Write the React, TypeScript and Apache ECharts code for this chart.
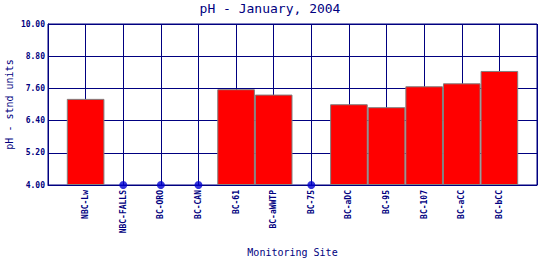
import React, { useEffect, useRef } from "react";
import * as echarts from "echarts";

const sites = [
  "NBC-Lw", "NBC-FALLS", "BC-ORO", "BC-CAN", "BC-61", "BC-aWWTP",
  "BC-75", "BC-aDC", "BC-95", "BC-107", "BC-aCC", "BC-bCC",
];
const phValues: (number | null)[] = [
  7.21, null, null, null, 7.57, 7.37, null, 7.01, 6.9, 7.68, 7.79, 8.25,
];
const yMin = 4.0;
const yMax = 10.0;
const yStep = 1.2;

const NAVY = "#000080";
const FONT = "'DejaVu Sans Mono', monospace";

export default function App() {
  const ref = useRef<HTMLDivElement>(null);
  useEffect(() => {
    if (!ref.current) return;
    const chart = echarts.init(ref.current, undefined, { renderer: "svg" });
    const cats = ["", ...sites, ""];
    const barData = ["-", ...phValues.map((v) => (v == null ? "-" : v - yMin)), "-"];
    const dotData = ["-", ...phValues.map((v) => (v == null ? 0 : "-")), "-"];
    chart.setOption({
      animation: false,
      backgroundColor: "#ffffff",
      title: {
        text: "pH - January, 2004",
        left: "center",
        top: 2,
        padding: 0,
        textStyle: { fontFamily: FONT, fontSize: 13, fontWeight: "normal", color: NAVY },
      },
      grid: {
        left: 48,
        right: 3,
        top: 24,
        bottom: 75,
        containLabel: false,
        outerBoundsMode: "none",
        show: true,
        borderColor: NAVY,
        borderWidth: 1,
        backgroundColor: "#ffffff",
      },
      xAxis: {
        type: "category",
        data: cats,
        boundaryGap: false,
        name: "Monitoring Site",
        nameLocation: "middle",
        nameGap: 62,
        nameMoveOverlap: false,
        nameTextStyle: { fontFamily: FONT, fontSize: 10, color: NAVY },
        axisLine: { show: true, lineStyle: { color: NAVY, width: 1 } },
        axisTick: { show: false },
        splitLine: { show: true, lineStyle: { color: NAVY, width: 1 } },
        axisLabel: {
          interval: 0,
          rotate: 90,
          margin: 5,
          fontFamily: FONT,
          fontSize: 8,
          fontWeight: "bold",
          color: NAVY,
        },
      },
      yAxis: {
        type: "value",
        min: 0,
        max: yMax - yMin,
        interval: yStep,
        name: "pH - stnd units",
        nameLocation: "middle",
        nameGap: 34,
        nameMoveOverlap: false,
        nameTextStyle: { fontFamily: FONT, fontSize: 10, color: NAVY },
        axisLine: { show: true, lineStyle: { color: NAVY, width: 1 } },
        axisTick: { show: false },
        splitLine: { show: true, lineStyle: { color: NAVY, width: 1 } },
        axisLabel: {
          margin: 3,
          fontFamily: FONT,
          fontSize: 8,
          fontWeight: "bold",
          color: NAVY,
          formatter: (v: number) => (v + yMin).toFixed(2),
        },
      },
      series: [
        {
          type: "bar",
          data: barData,
          barWidth: "100%",
          itemStyle: { color: "#ff0000", borderColor: "#808080", borderWidth: 1 },
        },
        {
          type: "scatter",
          data: dotData,
          symbol: "circle",
          symbolSize: 8,
          itemStyle: { color: "#0000d0" },
          z: 5,
        },
      ],
    });
    return () => chart.dispose();
  }, []);
  return (
    <div
      ref={ref}
      style={{ position: "fixed", left: 0, top: 0, width: 540, height: 260 }}
    />
  );
}
